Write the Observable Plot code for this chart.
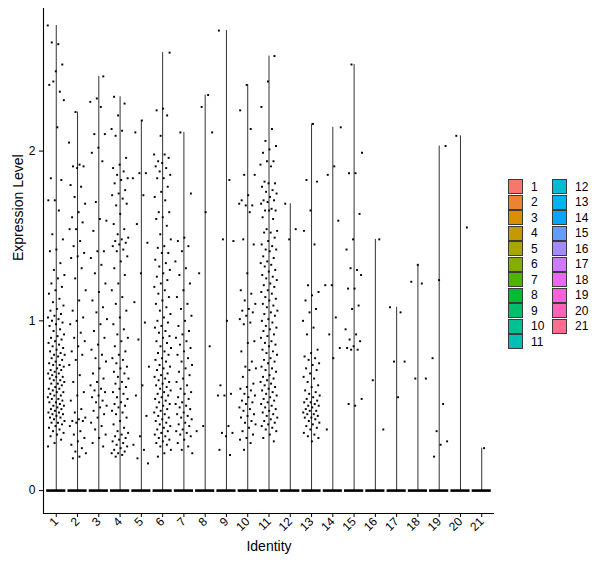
<!DOCTYPE html>
<html><head><meta charset="utf-8">
<script src="https://cdn.jsdelivr.net/npm/d3@7"></script>
<script src="https://cdn.jsdelivr.net/npm/@observablehq/plot@0.6"></script>
<style>
body{margin:0;background:#fff;font-family:"Liberation Sans",Arial,sans-serif;}
#wrap{position:relative;width:600px;height:568px;}
#legend{position:absolute;left:508px;top:179px;display:flex;font-size:12px;color:#000;}
.col{display:flex;flex-direction:column;}
.item{display:flex;align-items:center;height:15.5px;}
.sw{box-sizing:border-box;width:15px;height:15px;border:1px solid #3a3a3a;}
.lab{margin-left:8px;width:21px;}
</style></head><body><div id="wrap"><div id="legend"></div></div>
<script>
const clusters = ["1","2","3","4","5","6","7","8","9","10","11","12","13","14","15","16","17","18","19","20","21"];
const palette = ["#F8766D","#EB8334","#DA8F00","#C49A00","#A8A400","#86AC00","#4DB400","#00BA38","#00BE6D","#00C094","#00C0B6","#00BDD2","#00B5EE","#06A6FF","#619CFF","#A58AFF","#CE79FF","#EB69F0","#FB61D7","#FF63B8","#FF6C90"];
const yTicks = [0, 1, 2];

// non-zero expression values per cluster (zero cells form the band at 0)
const c1 = [2.74,2.63,2.64,2.51,2.47,2.39,2.35,2.41,2.30,2.14,1.84,1.83,1.71,1.71,1.65,1.51,1.48,1.42,1.41,
 1.34,1.30,1.27,1.25,1.22,1.20,1.18,1.16,1.13,1.11,1.09,1.07,1.06,1.04,1.03,1.02,1.01,1.00,0.99,0.98,
 0.97,0.95,0.94,0.92,0.91,0.90,0.89,0.88,0.87,0.86,0.85,0.84,0.83,0.82,0.81,0.80,0.80,0.79,0.78,0.77,
 0.76,0.75,0.74,0.74,0.73,0.72,0.71,0.71,0.70,0.69,0.69,0.68,0.67,0.67,0.66,0.65,0.65,0.64,0.63,0.63,
 0.62,0.61,0.60,0.60,0.59,0.58,0.58,0.57,0.56,0.56,0.55,0.54,0.54,0.53,0.52,0.52,0.51,0.50,0.50,0.49,
 0.48,0.48,0.47,0.46,0.46,0.45,0.45,0.44,0.43,0.43,0.42,0.41,0.40,0.40,0.39,0.38,0.37,0.36,0.35,0.34,
 0.33,0.32,0.30,0.28,0.26];
const c2 = [2.23,2.05,1.92,1.91,1.91,1.90,1.80,1.79,1.73,1.69,1.64,1.61,1.58,1.54,1.54,1.47,1.44,1.40,1.38,1.37,
 1.31,1.25,1.18,1.12,1.06,1.02,1.00,0.98,0.93,0.90,0.88,0.85,0.82,0.80,0.77,0.74,0.68,0.64,0.58,0.56,0.53,
 0.48,0.46,0.43,0.42,0.41,0.41,0.40,0.38,0.35,0.33,0.31,0.29,0.27,0.25,0.23,0.22,0.20,0.19];
const c3 = [2.44,2.31,2.29,2.26,2.10,2.10,2.02,1.99,1.94,1.70,1.59,1.60,1.53,1.41,1.41,1.37,
 1.33,1.28,1.22,1.17,1.12,1.08,1.05,1.01,0.98,0.94,0.90,0.86,0.83,0.80,0.78,0.76,0.72,0.69,0.66,0.64,
 0.62,0.60,0.59,0.58,0.56,0.55,0.53,0.52,0.50,0.49,0.47,0.45,0.43,0.40,0.38,0.36,0.33,0.31,0.28,0.26];
const c4 = [2.32,2.28,2.21,2.13,2.12,2.09,1.96,1.92,1.90,1.88,1.86,1.84,1.83,1.81,1.77,1.75,1.74,1.72,1.68,1.69,
 1.63,1.57,1.54,1.51,1.49,1.48,1.47,1.46,1.45,1.44,1.42,1.41,1.38,
 1.35,1.31,1.27,1.22,1.18,1.14,1.10,1.06,1.02,0.98,0.95,0.92,0.90,0.88,0.85,0.82,0.80,0.78,0.77,0.75,
 0.73,0.72,0.70,0.69,0.67,0.66,0.64,0.63,0.61,0.60,0.58,0.57,0.55,0.54,0.52,0.51,0.50,0.49,0.47,0.46,
 0.45,0.43,0.41,0.39,0.37,0.35,0.34,0.33,0.32,0.31,0.30,0.29,0.28,0.27,0.26,0.25,0.24,0.23,0.22,0.22,
 0.21,0.20];
const c5 = [2.18,2.11,1.87,1.87,1.84,1.74,1.57,1.46,1.28,1.11,0.99,0.89,0.73,0.62,0.56,0.44,0.32,0.27,0.24,0.19,0.16];
const c6 = [2.58,2.25,2.24,2.21,2.09,1.98,1.98,1.94,1.96,1.93,1.91,1.90,1.88,1.86,1.84,1.84,1.79,1.76,1.73,1.71,
 1.64,1.64,1.61,1.60,1.56,1.51,1.48,1.44,1.43,1.40,1.40,
 1.36,1.34,1.32,1.30,1.28,1.26,1.24,1.22,1.20,1.18,1.16,1.14,1.12,1.10,1.08,1.06,1.04,1.02,1.00,0.99,
 0.97,0.96,0.94,0.93,0.91,0.90,0.88,0.87,0.85,0.84,0.82,0.81,0.80,0.78,0.77,0.76,0.74,0.73,0.72,0.71,
 0.69,0.68,0.67,0.66,0.65,0.64,0.63,0.62,0.61,0.60,0.59,0.58,0.57,0.56,0.55,0.54,0.53,0.52,0.51,0.50,
 0.49,0.48,0.47,0.46,0.45,0.44,0.43,0.42,0.41,0.40,0.39,0.38,0.37,0.36,0.35,0.34,0.33,0.32,0.31,0.30,
 0.29,0.28,0.27,0.26,0.24,0.22,0.20];
const c7 = [2.11,1.75,1.49,1.47,1.44,1.41,
 1.35,1.31,1.27,1.22,1.18,1.14,1.10,1.07,1.03,1.00,0.97,0.94,0.92,0.90,0.88,0.86,0.84,0.82,0.80,0.78,
 0.76,0.74,0.72,0.70,0.68,0.66,0.64,0.62,0.60,0.58,0.57,0.55,0.54,0.52,0.51,0.50,0.49,0.48,0.46,0.45,
 0.44,0.43,0.42,0.40,0.39,0.38,0.36,0.35,0.34,0.33,0.32,0.30,0.28,0.26,0.24,0.22];
const c8 = [2.33,2.26,2.11,1.64,1.28,0.85,0.38,0.35];
const c9 = [2.71,1.83,1.48,1.47,1.00,0.62,0.57,0.56,0.56,0.38,0.34,0.34,0.32,0.24,0.21];
const c10 = [2.39,2.24,2.13,1.86,1.86,1.74,1.71,1.68,1.68,1.69,1.64,1.48,1.45,
 1.28,1.18,1.16,1.12,1.10,1.07,1.06,1.05,1.03,1.01,0.99,0.98,0.88,0.87,0.82,0.76,0.73,0.72,0.71,0.67,
 0.63,0.61,0.60,0.59,0.57,0.56,0.55,0.53,0.52,0.51,0.49,0.48,0.47,0.45,0.44,0.43,0.41,0.40,0.39,0.37,
 0.35,0.33,0.31,0.30,0.28,0.24];
const c11 = [2.56,2.41,2.26,2.13,2.06,2.03,2.01,1.99,1.94,1.94,1.92,1.91,1.82,1.81,1.81,1.79,1.77,1.76,1.75,1.73,
 1.71,1.71,1.70,1.69,1.66,1.65,1.65,1.65,1.61,1.60,1.54,1.53,1.52,1.52,1.49,1.47,1.45,1.44,1.42,1.42,1.41,
 1.38,1.37,1.35,1.34,1.33,1.32,1.30,1.29,1.27,1.26,1.25,1.24,1.22,1.21,1.20,1.18,1.17,1.16,1.14,1.13,
 1.12,1.10,1.09,1.08,1.06,1.05,1.04,1.03,1.01,1.00,0.99,0.97,0.96,0.95,0.94,0.92,0.91,0.90,0.88,0.87,
 0.86,0.85,0.83,0.82,0.81,0.80,0.78,0.77,0.76,0.75,0.73,0.72,0.71,0.70,0.68,0.67,0.66,0.65,0.64,0.63,
 0.62,0.61,0.60,0.59,0.58,0.57,0.56,0.55,0.54,0.53,0.52,0.51,0.50,0.49,0.48,0.47,0.46,0.45,0.44,0.43,
 0.42,0.41,0.40,0.39,0.38,0.37,0.36,0.35,0.33,0.31,0.29];
const c12 = [1.69,1.54,1.48];
const c13 = [2.16,1.83,1.82,1.65,1.53,1.45,
 1.21,1.17,1.15,1.12,1.07,1.05,1.00,0.96,0.92,0.83,0.81,0.79,0.78,0.77,0.75,0.74,0.72,0.71,0.69,0.67,
 0.66,0.64,0.62,0.61,0.59,0.58,0.57,0.56,0.55,0.54,0.53,0.52,0.52,0.51,0.50,0.50,0.49,0.48,0.47,0.47,
 0.46,0.45,0.45,0.44,0.43,0.43,0.42,0.41,0.40,0.39,0.38,0.37,0.36,0.34,0.33,0.32,0.31,0.29];
const c14 = [2.14,1.91,1.86,1.59,1.21,1.21,1.02,0.92,0.84,0.78,0.36];
const c15 = [2.51,1.99,1.87,1.87,1.63,1.48,1.42,1.30,1.31,1.27,1.19,1.19,1.09,1.07,0.95,0.92,0.89,0.88,0.85,0.84,
 0.83,0.83,0.54,0.50,0.51];
const c16 = [1.48,0.65,0.36];
const c17 = [1.08,1.05,0.76,0.76,0.55];
const c18 = [1.33,1.23,1.22,0.66,0.66];
const c19 = [2.03,1.24,0.78,0.51,0.35,0.29,0.27,0.20];
const c20 = [2.09,1.55];
const c21 = [0.25];
const values = [c1,c2,c3,c4,c5,c6,c7,c8,c9,c10,c11,c12,c13,c14,c15,c16,c17,c18,c19,c20,c21];

const idx = clusters.map((c, i) => i + 1);
const points = values.flatMap((arr, i) => arr.map((v, j) => ({cluster: i + 1, expr: v, j})));
const violins = values.map((arr, i) => ({cluster: i + 1, max: d3.max(arr)}));
// deterministic horizontal spread (position only)
const jit = (i, j) => { const f = ((j + 1) * 0.6180339887 + i * 0.3819660113) % 1; return (f - 0.5) * 0.8; };

const plot = Plot.plot({
  width: 600, height: 568,
  marginLeft: 43, marginRight: 106, marginTop: 8, marginBottom: 55,
  x: {domain: [0.4, 21.6], axis: null},
  y: {domain: [-0.135, 2.84], axis: null},
  style: {fontFamily: "'Liberation Sans', Arial, sans-serif", fontSize: "12px", color: "black", background: "white"},
  marks: [
    Plot.ruleX(violins, {x: "cluster", y1: () => 0, y2: "max", stroke: "#333", strokeWidth: 1}),
    Plot.ruleY(idx, {y: () => 0, x1: d => d - 0.45, x2: d => d + 0.45, stroke: "black", strokeWidth: 2.6}),
    Plot.dot(points, {x: d => d.cluster + jit(d.cluster, d.j), y: "expr", r: 1.1, symbol: "square", fill: "black", stroke: "none"}),
    Plot.ruleX([0.4], {stroke: "black", strokeWidth: 1.1}),
    Plot.ruleY([-0.135], {stroke: "black", strokeWidth: 1.1}),
    Plot.axisY({ticks: yTicks, tickFormat: d => String(d), tickSize: 4, tickPadding: 4, fontSize: 12, label: null}),
    Plot.axisX({ticks: idx, tickFormat: d => clusters[d - 1], tickSize: 4, tickPadding: 2, tickRotate: -45, fontSize: 12, label: null}),
    Plot.text(["Identity"], {frameAnchor: "bottom", dy: 37, fontSize: 14}),
    Plot.text(["Expression Level"], {frameAnchor: "left", dx: -25, rotate: -90, fontSize: 14})
  ]
});
document.getElementById("wrap").prepend(plot);

const legend = document.getElementById("legend");
[[0, 11], [11, 21]].forEach(([a, b]) => {
  const col = document.createElement("div");
  col.className = "col";
  for (let i = a; i < b; i++) {
    const it = document.createElement("div");
    it.className = "item";
    it.innerHTML = `<div class="sw" style="background:${palette[i]}"></div><span class="lab">${clusters[i]}</span>`;
    col.appendChild(it);
  }
  legend.appendChild(col);
});
</script></body></html>
